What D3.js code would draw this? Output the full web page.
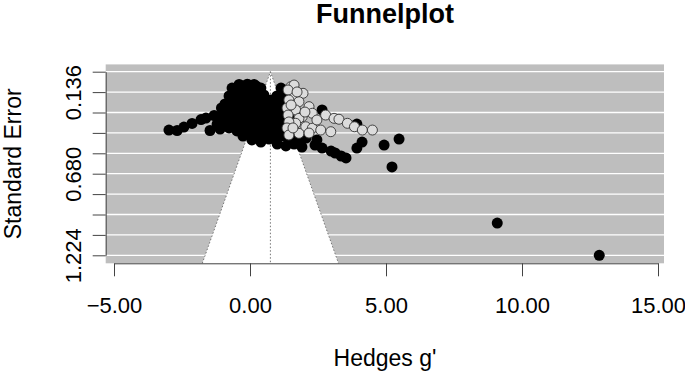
<!DOCTYPE html>
<html>
<head>
<meta charset="utf-8">
<script src="https://cdn.jsdelivr.net/npm/d3@7"></script>
<style>
  body { margin: 0; background: #fff; }
  text { font-family: "Liberation Sans", Arial, sans-serif; fill: #000; }
</style>
</head>
<body>
<svg width="685" height="373"></svg>
<script>
"use strict"

// observed studies: [Hedges g', standard error]
const studies = [
    [-2.98,0.389],[-2.68,0.392],[-2.43,0.369],[-2.13,0.345],[-1.80,0.319],[-1.62,0.309],[-1.32,0.292],
    [-1.47,0.392],[-1.10,0.382],[-0.77,0.375],[-0.48,0.395],[-0.70,0.315],[-0.92,0.269],[-0.81,0.215],
    [-0.63,0.162],[-0.48,0.122],[-0.29,0.095],[-0.04,0.089],[0.22,0.095],[0.40,0.109],[-0.18,0.135],
    [0.11,0.135],[0.51,0.155],[-0.40,0.189],[-0.11,0.189],[0.18,0.182],[0.48,0.202],[0.77,0.189],
    [1.07,0.175],[1.21,0.222],[-0.55,0.242],[-0.26,0.242],[0.04,0.235],[0.33,0.255],[0.62,0.242],
    [0.92,0.262],[-0.40,0.295],[-0.11,0.289],[0.18,0.302],[0.48,0.295],[0.77,0.309],[1.07,0.302],
    [1.29,0.282],[-0.55,0.349],[-0.22,0.342],[0.07,0.355],[0.37,0.349],[0.66,0.362],[0.96,0.349],
    [1.25,0.342],[-0.11,0.395],[0.18,0.409],[0.48,0.402],[0.77,0.415],[1.07,0.402],[1.36,0.389],
    [0.07,0.455],[0.40,0.469],[0.70,0.449],[1.00,0.482],[1.32,0.495],[1.62,0.482],[1.73,0.462],
    [1.91,0.502],[1.43,0.442],[-0.99,0.336],[-1.21,0.349],[-0.66,0.109],[1.14,0.109],[1.29,0.149],
    [2.06,0.442],[2.46,0.455],[2.39,0.489],[2.65,0.509],[2.98,0.529],[3.13,0.542],[3.35,0.562],
    [3.53,0.575],[3.93,0.509],[4.12,0.469],[4.93,0.489],[5.48,0.449],[5.22,0.635],[2.65,0.255],
    [3.93,0.349],[9.09,1.009],[12.84,1.224],
    [-0.48,0.109],[-0.18,0.109],[0.11,0.109],[0.33,0.109],
    [-0.77,0.162],[-0.48,0.162],[-0.18,0.162],[0.11,0.162],[0.40,0.162],[0.99,0.162],
    [-0.92,0.215],[-0.63,0.215],[-0.33,0.215],[-0.04,0.215],[0.26,0.215],[0.55,0.215],[0.85,0.215],
    [1.14,0.215],[1.43,0.215],
    [-0.70,0.269],[-0.40,0.269],[-0.11,0.269],[0.18,0.269],[0.48,0.269],[0.77,0.269],[1.07,0.269],
    [1.36,0.269],
    [-0.85,0.322],[-0.55,0.322],[-0.26,0.322],[0.04,0.322],[0.33,0.322],[0.62,0.322],[0.92,0.322],
    [1.21,0.322],[1.51,0.322],
    [-0.40,0.375],[0.26,0.375],[0.55,0.375],[0.85,0.375],[1.14,0.375],[1.43,0.375],
    [-0.26,0.429],[0.04,0.429],[0.33,0.429],[0.62,0.429],[0.92,0.429],[1.21,0.429],[1.51,0.429],
    [-1.05,0.242],[-1.15,0.300],[-0.40,0.085],[-0.10,0.083],[0.15,0.085]
]

// studies imputed by trim and fill
const filled = [
    [1.50,0.100],[1.62,0.089],[1.95,0.144],[1.56,0.167],[1.80,0.200],[2.17,0.233],[1.68,0.255],
    [2.29,0.277],[2.78,0.289],[1.92,0.300],[1.80,0.311],[3.09,0.311],[3.27,0.317],[1.68,0.344],
    [3.58,0.344],[2.05,0.367],[3.84,0.367],[2.29,0.377],[2.60,0.389],[4.13,0.389],[4.50,0.389],
    [2.97,0.400],[1.80,0.411],[1.40,0.122],[1.43,0.189],[1.36,0.242],[1.40,0.289],[1.43,0.335],
    [1.36,0.375],[1.43,0.422],[1.73,0.135],[2.02,0.269],[2.46,0.322],[2.17,0.409],[1.58,0.375],
    [1.51,0.222]
]

const pooledEstimate = 0.75
const xTicks = [-5, 0, 5, 10, 15]
const yTicks = [0, 0.136, 0.272, 0.408, 0.544, 0.680, 0.816, 0.952, 1.088, 1.224]
const yTickLabels = [0.136, 0.680, 1.224]

const svg = d3.select("svg")

const x = d3.scaleLinear().domain([-5, 15]).range([114, 658])
const y = d3.scaleLinear().domain([0, 1.224]).range([71.7, 255.3])

// usr region (4% padding like R)
const xlim = [x.invert(105.7), x.invert(664)]
const ylim = [y.invert(64.4), y.invert(263.3)]

svg.append("rect")
    .attr("x", x(xlim[0])).attr("y", y(ylim[0]))
    .attr("width", x(xlim[1]) - x(xlim[0]))
    .attr("height", y(ylim[1]) - y(ylim[0]))
    .style("fill", "#bebebe")

svg.selectAll(".hline")
    .data(yTicks)
    .enter()
    .append("line")
    .attr("x1", x(xlim[0])).attr("x2", x(xlim[1]))
    .attr("y1", d => y(d)).attr("y2", d => y(d))
    .style("stroke", "#fff")
    .style("stroke-width", 1.3)

// funnel (95% pseudo confidence region)
const seBottom = ylim[1]
const funnel = [
    [pooledEstimate - 1.96 * seBottom, seBottom],
    [pooledEstimate, 0],
    [pooledEstimate + 1.96 * seBottom, seBottom]
]
svg.append("polygon")
    .attr("points", funnel.map(d => x(d[0]) + "," + y(d[1])).join(" "))
    .style("fill", "#fff")

svg.append("polyline")
    .attr("points", funnel.map(d => x(d[0]) + "," + y(d[1])).join(" "))
    .style("fill", "none")
    .style("stroke", "#777")
    .style("stroke-dasharray", "1.5,2")

svg.append("line")
    .attr("x1", x(pooledEstimate)).attr("x2", x(pooledEstimate))
    .attr("y1", y(0)).attr("y2", y(seBottom))
    .style("stroke", "#777")
    .style("stroke-dasharray", "1.5,2")

// points
svg.selectAll(".study")
    .data(studies)
    .enter()
    .append("circle")
    .attr("cx", d => x(d[0]))
    .attr("cy", d => y(d[1]))
    .attr("r", 5.5)
    .style("fill", "#000")

svg.selectAll(".filled")
    .data(filled)
    .enter()
    .append("circle")
    .attr("cx", d => x(d[0]))
    .attr("cy", d => y(d[1]))
    .attr("r", 5)
    .style("fill", "#dcdcdc")
    .style("stroke", "#333")
    .style("stroke-width", 0.9)

// axes
const xAxis = d3.axisBottom(x)
    .tickValues(xTicks)
    .tickFormat(d3.format(".2f"))
    .tickSize(13)
    .tickSizeOuter(0)

const gx = svg.append("g")
    .attr("transform", "translate(0," + y(ylim[1]) + ")")
    .call(xAxis)
gx.selectAll("path, line").style("stroke", "#444")
gx.selectAll("text")
    .style("font-size", "22px")
    .style("font-family", "Liberation Sans, Arial, sans-serif")
    .style("fill", "#000")
    .attr("y", 34)
    .attr("dy", "0.71em")

const yAxis = d3.axisLeft(y)
    .tickValues(yTicks)
    .tickFormat(d => yTickLabels.includes(d) ? d3.format(".3f")(d) : "")
    .tickSize(13)
    .tickSizeOuter(0)

const gy = svg.append("g")
    .attr("transform", "translate(" + x(xlim[0]) + ",0)")
    .call(yAxis)
gy.selectAll("path, line").style("stroke", "#444")
gy.selectAll("text")
    .style("font-size", "22px")
    .style("font-family", "Liberation Sans, Arial, sans-serif")
    .style("fill", "#000")
    .attr("x", 0).attr("dy", 0)
    .attr("text-anchor", "middle")
    .attr("transform", "translate(-25,0) rotate(-90)")

// titles
svg.append("text")
    .attr("x", 385).attr("y", 23)
    .attr("text-anchor", "middle")
    .style("font-size", "27px")
    .style("font-weight", "bold")
    .text("Funnelplot")

svg.append("text")
    .attr("x", 385).attr("y", 366)
    .attr("text-anchor", "middle")
    .style("font-size", "23px")
    .text("Hedges g'")

svg.append("text")
    .attr("transform", "translate(21," + y((ylim[0] + ylim[1]) / 2) + ") rotate(-90)")
    .attr("text-anchor", "middle")
    .style("font-size", "23px")
    .text("Standard Error")
</script>
</body>
</html>
